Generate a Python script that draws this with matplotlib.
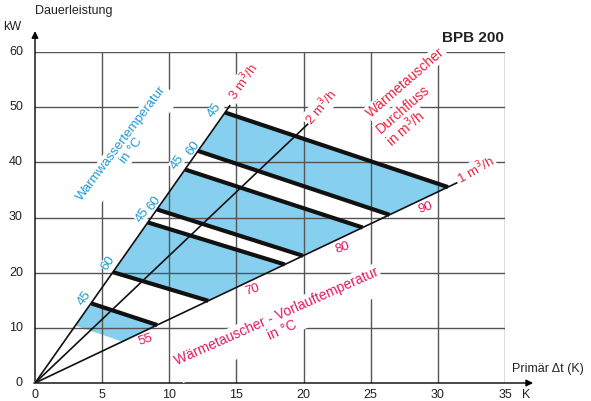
import numpy as np
import matplotlib.pyplot as plt

plt.rcParams['font.family'] = ['Liberation Sans', 'DejaVu Sans']

# kW per (m3/h * K)
k = 1.155
flows = [3, 2, 1]
flow_end_x = [14.5, 20.3, 31.4]
flow_labels = ['3 m$^3$/h', '2 m$^3$/h', '1 m$^3$/h']

# hot water isotherms: x on the 3 m3/h line and on the 1 m3/h line
iso_x3 = [14.15, 12.14, 11.17, 9.08, 8.4, 5.8, 4.17]
iso_x1 = [30.75, 26.4, 24.4, 19.96, 18.6, 12.9, 9.1]
iso_labels = ['45', '60', '45', '60', '45', '60', '45']
# lower edge of the last band (no line drawn)
edge_x3 = 3.0
edge_x1 = 6.5

vorlauf_labels = ['90', '80', '70', '55']
vorlauf_x = [29.1, 22.9, 16.2, 8.2]
vorlauf_y = [31.7, 24.5, 16.9, 7.8]

durch_lines = ['Wärmetauscher', 'Durchfluss', 'in m$^3$/h']
durch_x = [27.6, 27.4, 27.6]
durch_y = [54.4, 49.6, 46.3]

blue_txt = '#1e9ad6'
red_txt = '#e8203e'
pink_txt = '#e3185f'
fill_col = '#86cfee'

fig = plt.figure(figsize=(5.91, 4.01), dpi=100)
ax = fig.add_axes([35/591, 1 - 383/401, 470/591, 331/401])
ax.set_xlim(0, 35)
ax.set_ylim(0, 60)
for s in ax.spines.values():
    s.set_visible(False)
ax.set_xticks([])
ax.set_yticks([])

# grid
for gx in range(5, 40, 5):
    ax.plot([gx, gx], [0, 60], color='#555555', lw=1.0, zorder=2)
for gy in range(10, 70, 10):
    ax.plot([0, 35], [gy, gy], color='#555555', lw=1.0, zorder=2)

# axes with arrows
ax.annotate('', xy=(37.3, 0), xytext=(-0.3, 0), annotation_clip=False,
            arrowprops=dict(arrowstyle='-|>', color='black', lw=1.0, mutation_scale=10))
ax.annotate('', xy=(0, 64.3), xytext=(0, -0.2), annotation_clip=False,
            arrowprops=dict(arrowstyle='-|>', color='black', lw=1.0, mutation_scale=10))

for gx in range(0, 40, 5):
    ax.text(gx, -2.75, str(gx), ha='center', va='baseline', fontsize=9, color='#222222')
for gy in range(0, 70, 10):
    ax.text(-0.9, gy, str(gy), ha='right', va='center', fontsize=9, color='#222222')
ax.text(36.6, -2.75, 'K', ha='center', va='baseline', fontsize=9, color='#222222')
ax.text(-1.7, 64.5, 'kW', ha='center', va='center', fontsize=9, color='#222222')
ax.text(0, 67.5, 'Dauerleistung', ha='left', va='center', fontsize=9, color='#222222')
ax.text(35.5, 2.5, 'Primär Δt (K)', ha='left', va='center', fontsize=9, color='#222222')
ax.text(34.9, 62.5, 'BPB 200', ha='right', va='center', fontsize=11,
        fontweight='bold', color='#222222')

k3, k1 = k * flows[0], k * flows[2]

# blue bands
pairs = [(0, 1), (2, 3), (4, 5)]
for a, b in pairs:
    xs = [iso_x3[a], iso_x1[a], iso_x1[b], iso_x3[b]]
    ys = [k3 * iso_x3[a], k1 * iso_x1[a], k1 * iso_x1[b], k3 * iso_x3[b]]
    ax.fill(xs, ys, color=fill_col, lw=0, zorder=1)
xs = [iso_x3[6], iso_x1[6], edge_x1, edge_x3]
ys = [k3 * iso_x3[6], k1 * iso_x1[6], k1 * edge_x1, k3 * edge_x3]
ax.fill(xs, ys, color=fill_col, lw=0, zorder=1)

# isotherm lines
for x3, x1 in zip(iso_x3, iso_x1):
    ax.plot([x3, x1], [k3 * x3, k1 * x1], color='#111111', lw=3.0,
            solid_capstyle='butt', zorder=4)

# flow lines
for f, xe in zip(flows, flow_end_x):
    ax.plot([0, xe], [0, k * f * xe], color='#111111', lw=1.2, zorder=5)

box = dict(facecolor='white', edgecolor='none', pad=1.0)

# flow labels
ax.text(15.5, 54.6, flow_labels[0], rotation=55, ha='center', va='center',
        fontsize=9.5, color=red_txt, bbox=box, zorder=3)
ax.text(21.3, 50.0, flow_labels[1], rotation=50, ha='center', va='center',
        fontsize=9.5, color=red_txt, bbox=box, zorder=3)
ax.text(32.8, 38.6, flow_labels[2], rotation=30, ha='center', va='center',
        fontsize=9.5, color=red_txt, bbox=box, zorder=3)
for lx, ly, lab in zip(durch_x, durch_y, durch_lines):
    ax.text(lx, ly, lab, rotation=41, ha='center', va='center', fontsize=10,
            color=red_txt, bbox=box, zorder=3)

# isotherm labels
iso_lx = [13.4, 11.8, 10.6, 8.9, 8.0, 5.45, 3.7]
iso_ly = [49.5, 42.6, 40.1, 32.6, 30.5, 21.7, 15.4]
for lx, ly, lab in zip(iso_lx, iso_ly, iso_labels):
    ax.text(lx, ly, lab, rotation=55, ha='center', va='center', fontsize=9.5,
            color=blue_txt, bbox=dict(facecolor='white', edgecolor='none', pad=0.3),
            zorder=3)
ax.text(6.8, 42.8, 'Warmwassertemperatur\nin °C', rotation=53, ha='center',
        va='center', multialignment='center', fontsize=9.5, color=blue_txt,
        bbox=box, zorder=3, linespacing=1.1)

# Vorlauf labels
for lx, ly, lab in zip(vorlauf_x, vorlauf_y, vorlauf_labels):
    ax.text(lx, ly, lab, rotation=18, ha='center', va='center', fontsize=9.5,
            color=pink_txt, zorder=3)
ax.text(18.2, 10.9, 'Wärmetauscher - Vorlauftemperatur\nin °C', rotation=24,
        ha='center', va='center', multialignment='center', fontsize=10,
        color=pink_txt, bbox=box, zorder=3, linespacing=1.1)

fig.savefig('out.png', dpi=100)
